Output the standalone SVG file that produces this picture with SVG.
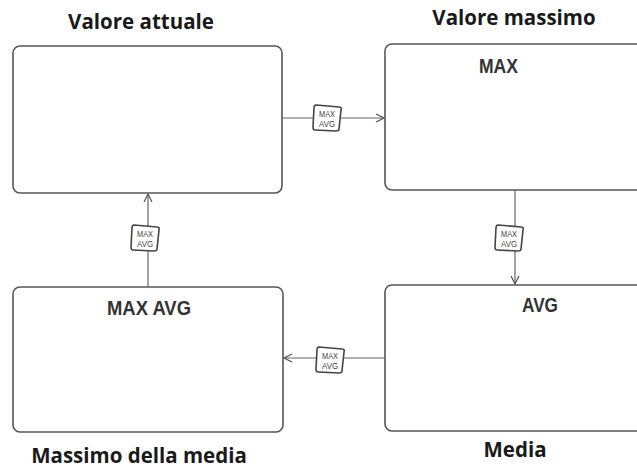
<svg xmlns="http://www.w3.org/2000/svg" width="637" height="468" viewBox="0 0 637 468">
<style>
.box{fill:#fff;stroke:#555;stroke-width:1.6}
.cap{font-family:"Open Sans","Liberation Sans",sans-serif;font-weight:bold;font-size:20.5px;fill:#1a1a1a;text-anchor:middle}
.in{font-family:"Liberation Sans",sans-serif;font-weight:bold;font-size:20px;fill:#333;text-anchor:middle}
.ln{stroke:#666;stroke-width:1.2;fill:none}
.bd{fill:#fff;stroke:#444;stroke-width:1.6}
.bt{font-family:"Liberation Sans",sans-serif;font-size:9.5px;fill:#444;text-anchor:middle}
</style>
<defs>
<marker id="ah" markerWidth="10" markerHeight="10" refX="9" refY="5" orient="auto" markerUnits="userSpaceOnUse">
<path d="M1,1 L9,5 L1,9" fill="none" stroke="#555" stroke-width="1.2"/>
</marker>
<g id="badge">
<path class="bd" d="M-11,-13 L12,-11 Q15,-11 14,-8 L12,11 Q12,13 9,13 L-12,12 Q-14,12 -14,9 L-13,-10 Q-13,-13 -11,-13 Z"/>
<text class="bt" y="-1.5" textLength="16" lengthAdjust="spacingAndGlyphs">MAX</text>
<text class="bt" y="8.5" textLength="16" lengthAdjust="spacingAndGlyphs">AVG</text>
</g>
</defs>
<g id="connectors">
<line class="ln" x1="282" y1="118" x2="384" y2="118" marker-end="url(#ah)"/>
<line class="ln" x1="515" y1="190" x2="515" y2="284" marker-end="url(#ah)"/>
<line class="ln" x1="385" y1="358" x2="284" y2="358" marker-end="url(#ah)"/>
<line class="ln" x1="148" y1="287" x2="148" y2="194" marker-end="url(#ah)"/>
<use href="#badge" x="327" y="118"/>
<use href="#badge" x="509" y="238"/>
<use href="#badge" x="330" y="360"/>
<use href="#badge" x="145" y="238"/>
</g>
<g id="n-attuale">
<rect class="box" x="13" y="46" width="269" height="147" rx="7"/>
<text class="cap" x="141" y="29">Valore attuale</text>
</g>
<g id="n-massimo">
<rect class="box" x="385" y="44" width="270" height="146" rx="7"/>
<text class="cap" x="514" y="25">Valore massimo</text>
<text class="in" x="498.5" y="73" textLength="39" lengthAdjust="spacingAndGlyphs">MAX</text>
</g>
<g id="n-maxavg">
<rect class="box" x="13" y="287" width="270" height="145" rx="7"/>
<text class="in" x="149" y="315" textLength="84" lengthAdjust="spacingAndGlyphs">MAX AVG</text>
<text class="cap" x="139" y="463">Massimo della media</text>
</g>
<g id="n-media">
<rect class="box" x="385" y="285" width="270" height="146" rx="7"/>
<text class="in" x="540" y="312" textLength="36" lengthAdjust="spacingAndGlyphs">AVG</text>
<text class="cap" x="515" y="457">Media</text>
</g>
</svg>
